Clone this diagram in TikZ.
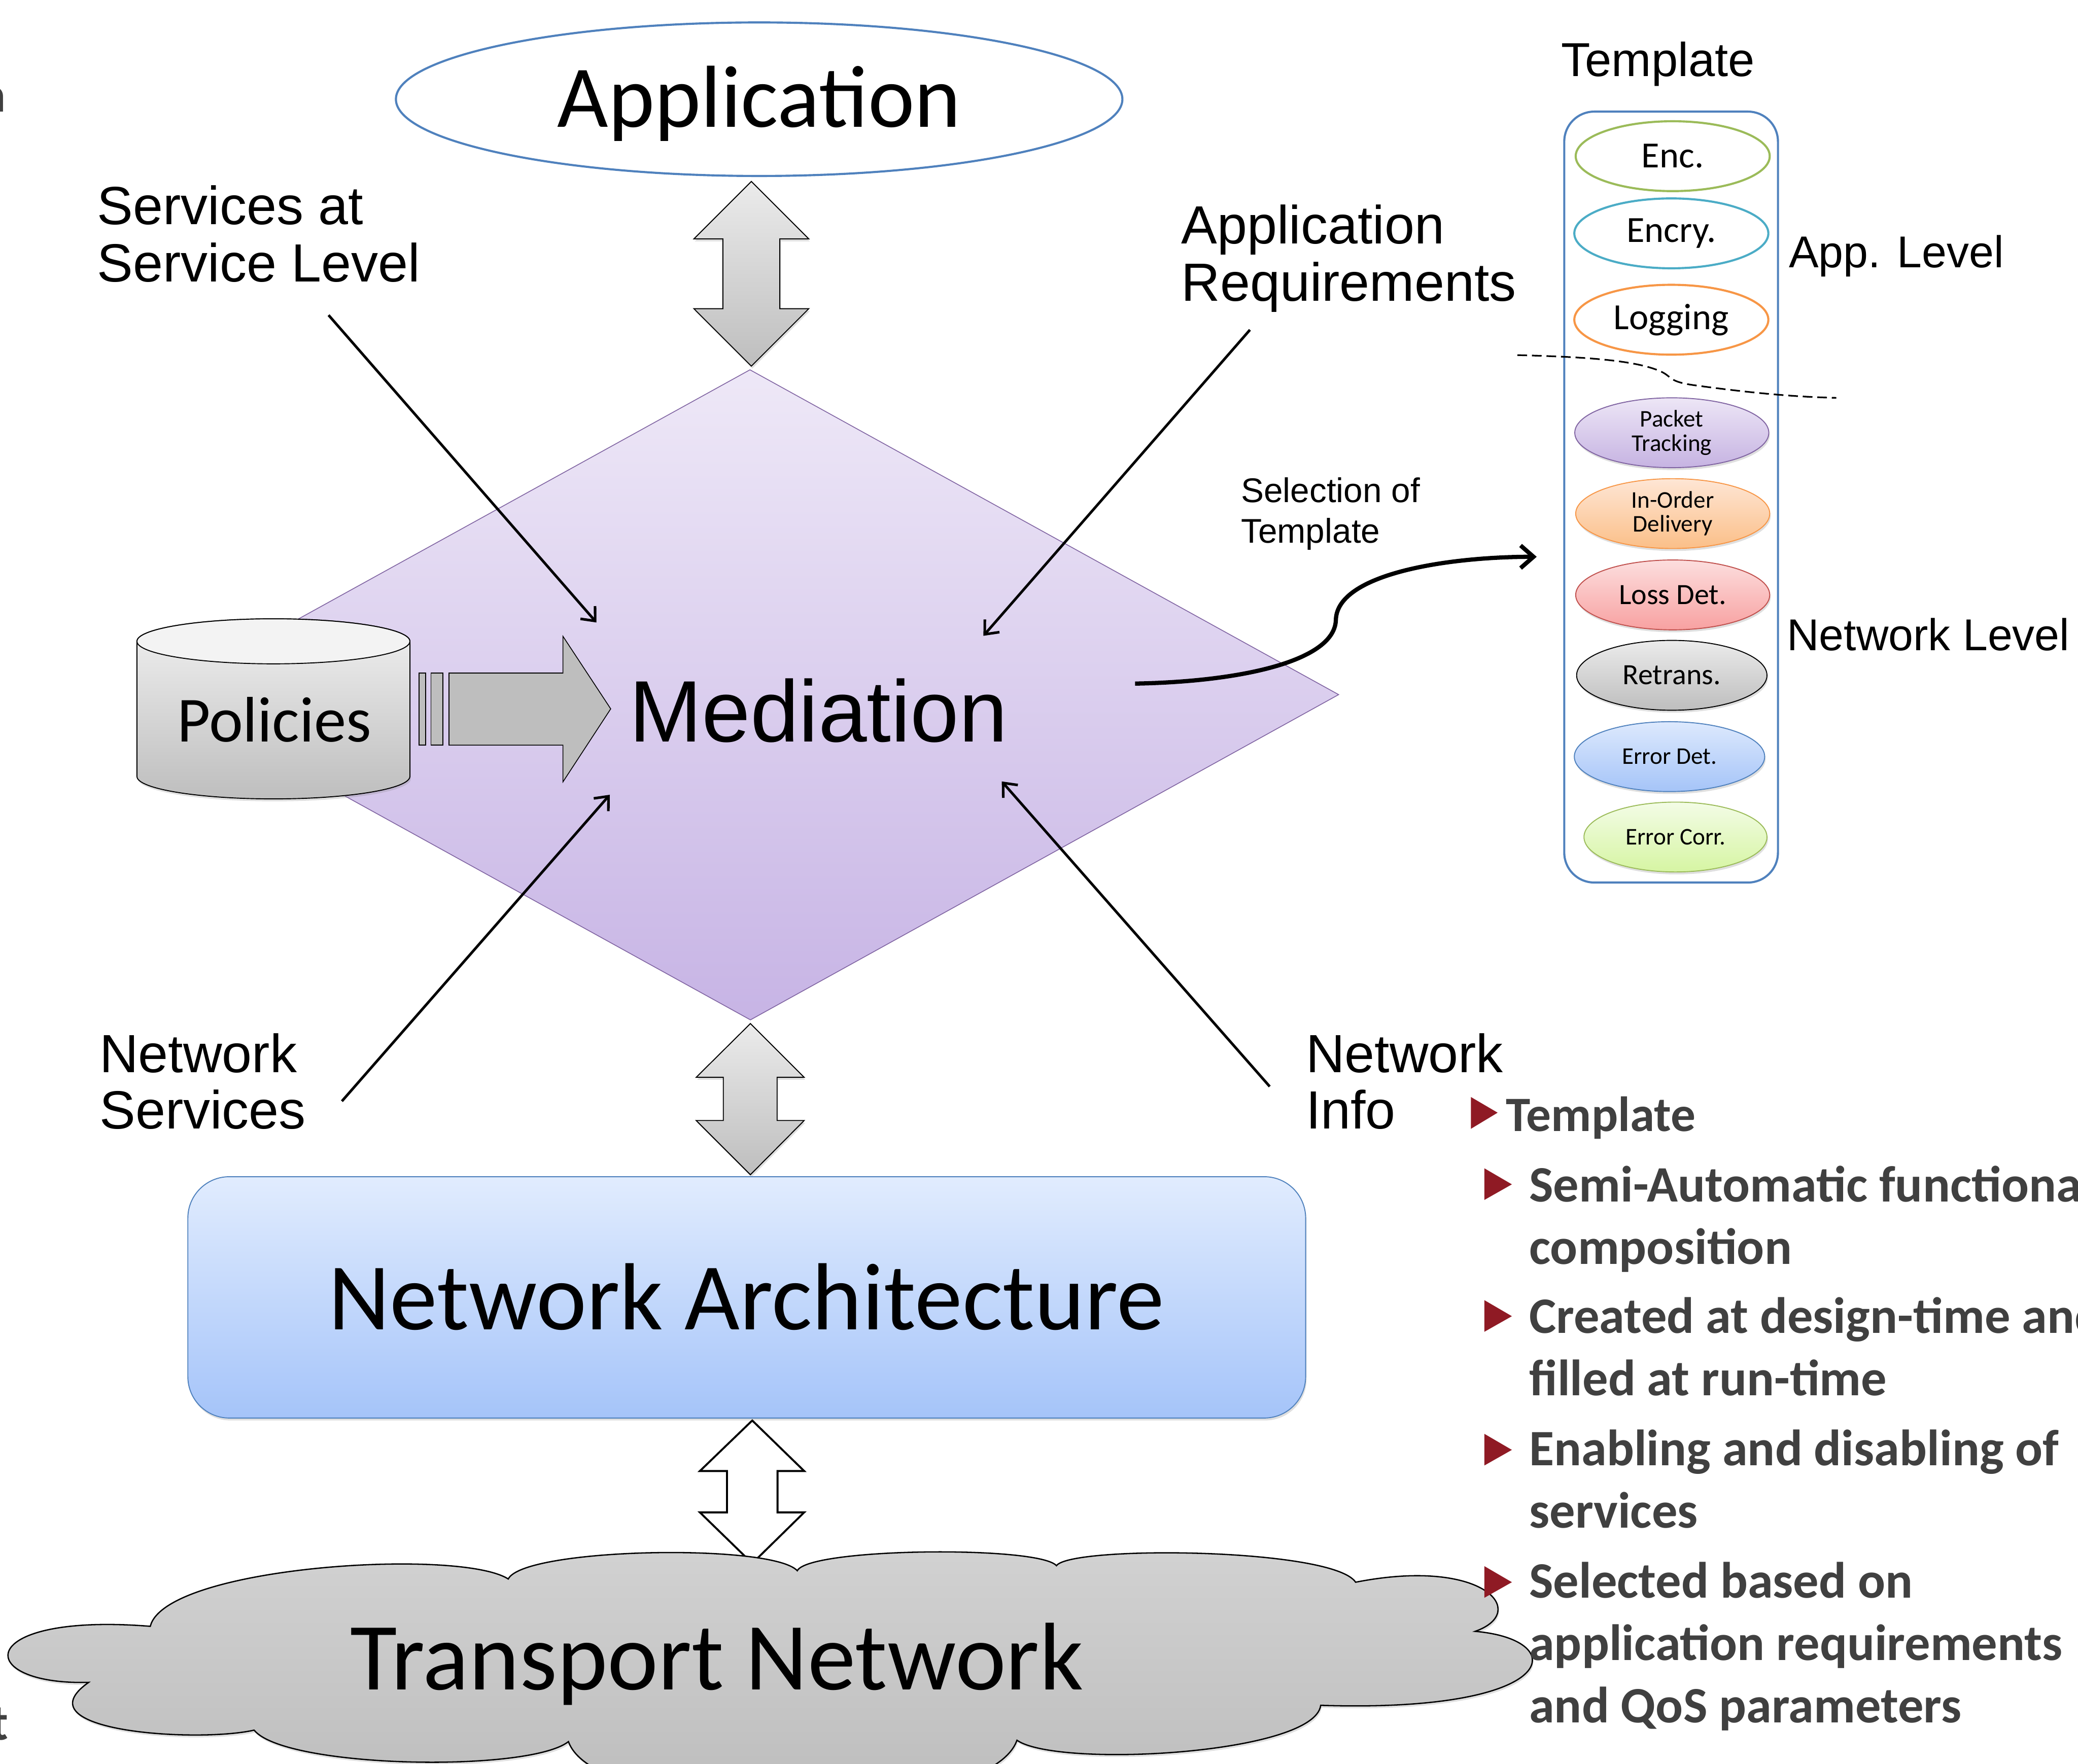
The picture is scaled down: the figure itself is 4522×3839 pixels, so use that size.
\documentclass[tikz,border=0pt]{standalone}
\usepackage{fontspec}
\usetikzlibrary{shapes.geometric,arrows.meta,shadows}
\newfontfamily\arialf{Liberation Sans}
\newfontfamily\calf{Carlito}
\newcommand\fsz[1]{\fontsize{#1}{#1}\selectfont}
\definecolor{blueln}{HTML}{4F81BD}
\definecolor{purpln}{HTML}{8064A2}
\definecolor{medtop}{RGB}{238,232,247}
\definecolor{medbot}{RGB}{199,180,229}
\definecolor{graytop}{HTML}{EBEBEB}
\definecolor{graybot}{HTML}{BEBEBE}
\definecolor{natop}{HTML}{E1ECFE}
\definecolor{nabot}{HTML}{A5C4F9}
\definecolor{cloudtop}{HTML}{D2D2D2}
\definecolor{cloudbot}{HTML}{BBBBBB}
\definecolor{bulred}{HTML}{8F1A24}
\definecolor{txtgray}{HTML}{404040}
\definecolor{cgreen}{HTML}{9BBB59}
\definecolor{caqua}{HTML}{4BACC6}
\definecolor{corange}{HTML}{F79646}
\definecolor{cred}{HTML}{C0504D}
\definecolor{pktop}{HTML}{EDE6F6}
\definecolor{pkbot}{HTML}{C6B3E2}
\definecolor{iotop}{HTML}{FEE6D5}
\definecolor{iobot}{HTML}{FBBF88}
\definecolor{lstop}{HTML}{FCDEDE}
\definecolor{lsbot}{HTML}{F8A1A1}
\definecolor{edtop}{HTML}{DDE9FD}
\definecolor{edbot}{HTML}{A5C4F8}
\definecolor{ectop}{HTML}{F3FCE6}
\definecolor{ecbot}{HTML}{D6F5A3}
\begin{document}
\begin{tikzpicture}[x=0.01cm,y=0.01cm,
  lbl/.style={inner sep=0,anchor=base west,font=\arialf\fsz{33.3pt}},
  lvl/.style={inner sep=0,anchor=base west,font=\arialf\fsz{27.6pt}},
  sel/.style={inner sep=0,anchor=base west,font=\arialf\fsz{21.2pt}},
  bul/.style={inner sep=0,anchor=base west,text=txtgray,font=\calf\bfseries\fsz{31.6pt}},
  ell/.style={ellipse,inner sep=0,minimum width=4.22cm,minimum height=1.52cm,font=\calf\fsz{14.8pt},align=center},
  appell/.style={ell,fill=white,line width=1.3pt,font=\calf\fsz{22.8pt}},
  shd/.style={drop shadow={shadow xshift=0.6pt,shadow yshift=-1.5pt,opacity=0.25}},
  conn/.style={line width=1.6pt,-{Straight Barb[length=7pt,width=12pt]}},
  grayarr/.style={draw=black,line width=0.6pt,top color=graytop,bottom color=graybot,shd},
  tri/.style={fill=bulred}
]
\useasboundingbox (0,0) rectangle (4522,3839);

% ---------- cut-off text fragments at the left edge
\node[inner sep=0,anchor=base east,text=txtgray,font=\calf\bfseries\fsz{30.4pt}] (fragn) at (13,3596) {n};
\node[inner sep=0,anchor=base east,text=txtgray,font=\calf\bfseries\fsz{31.6pt}] (fragt) at (19,52) {t};

% ---------- Mediation diamond
\coordinate (dT) at (1632,3034);
\coordinate (dR) at (2913,2327);
\coordinate (dB) at (1633,1619);
\coordinate (dL) at (351,2327);
\draw[purpln,line width=0.5pt,top color=medtop,bottom color=medbot] (dT) -- (dR) -- (dB) -- (dL) -- cycle;

% ---------- Application ellipse
\node[ellipse,draw=blueln,line width=1.3pt,fill=white,minimum width=15.8cm,minimum height=3.34cm,inner sep=0] (appE) at (1652,3623) {};
\node[inner sep=0,anchor=base,font=\calf\fsz{54.5pt}] (appT) at (1652,3562) {Application};

% ---------- block double arrows
\path[grayarr] (1635,3444) -- (1760,3319) -- (1697,3319) -- (1697,3167) -- (1760,3167) -- (1635,3042)
  -- (1510,3167) -- (1573,3167) -- (1573,3319) -- (1510,3319) -- cycle;
\path[grayarr] (1633,1611) -- (1750,1494) -- (1691,1494) -- (1691,1400) -- (1750,1400) -- (1633,1282)
  -- (1515,1400) -- (1574,1400) -- (1574,1494) -- (1515,1494) -- cycle;
\draw[line width=1.2pt,fill=white] (1637,747) -- (1750,637) -- (1692,637) -- (1692,547) -- (1750,547) -- (1637,436)
  -- (1523,547) -- (1582,547) -- (1582,637) -- (1523,637) -- cycle;

% ---------- Policies cylinder
\path[draw=black,line width=0.6pt,top color=graytop!70!white,bottom color=graybot,shd]
  (298,2443) -- (298,2149) arc[start angle=180,end angle=360,x radius=297,y radius=49]
  -- (892,2443) arc[start angle=0,end angle=180,x radius=297,y radius=49] -- cycle;
\draw[line width=0.6pt,fill=graytop!60!white] (595,2443) ellipse[x radius=297,y radius=49];
\node[inner sep=0,anchor=base,font=\calf\fsz{39.8pt}] (pol) at (597,2224) {Policies};

% Policies striped arrow
\draw[line width=0.5pt,fill=graybot] (912,2217) rectangle (926,2374);
\draw[line width=0.5pt,fill=graybot] (938,2217) rectangle (964,2374);
\draw[line width=0.5pt,fill=graybot] (977,2374) -- (1225,2374) -- (1225,2454) -- (1329,2296) -- (1225,2137)
  -- (1225,2217) -- (977,2217) -- cycle;

\node[inner sep=0,anchor=base,font=\arialf\fsz{54pt}] (med) at (1781,2224) {Mediation};

% ---------- labels
\node[lbl] (svc1) at (211,3350) {Services at};
\node[lbl] (svc2) at (211,3226) {Service Level};
\node[lbl] (req1) at (2570,3308) {Application};
\node[lbl] (req2) at (2570,3184) {Requirements};
\node[lbl] (ns1) at (216,1505) {Network};
\node[lbl] (ns2) at (216,1382) {Services};
\node[lbl] (ni1) at (2841,1505) {Network};
\node[lbl] (ni2) at (2841,1382) {Info};
\node[sel] (sel1) at (2700,2746) {Selection of};
\node[sel] (sel2) at (2700,2657) {Template};

% ---------- straight arrows
\coordinate (a1s) at (715,3153);  \coordinate (a1e) at (1298,2484);
\coordinate (a2s) at (2720,3121); \coordinate (a2e) at (2140,2455);
\coordinate (a3s) at (744,1442);  \coordinate (a3e) at (1327,2109);
\coordinate (a4s) at (2763,1474); \coordinate (a4e) at (2180,2138);
\draw[conn] (a1s) -- (a1e);
\draw[conn] (a2s) -- (a2e);
\draw[conn] (a3s) -- (a3e);
\draw[conn] (a4s) -- (a4e);

% ---------- curved selection arrow
\coordinate (cs) at (2470,2351);
\coordinate (cm) at (2907,2490);
\coordinate (ce) at (3344,2627);
\draw[line width=2.6pt,-{Straight Barb[length=8pt,width=14pt]}]
  (cs) .. controls (2700,2355) and (2905,2400) .. (cm) .. controls (2910,2590) and (3150,2627) .. (ce);

% ---------- Network Architecture
\node[draw=blueln,line width=0.6pt,rounded corners=0.9cm,top color=natop,bottom color=nabot,
  minimum width=24.31cm,minimum height=5.25cm,inner sep=0,shd] (na) at (1625,1015) {};
\node[inner sep=0,anchor=base,font=\calf\fsz{59pt}] (naT) at (1624,945) {Network Architecture};

% ---------- Transport Network cloud
\path[draw=black,line width=0.8pt,top color=cloudtop,bottom color=cloudbot,shd]
  (327,299) .. controls (360,430) and (1000,470) .. (1106,402)
  .. controls (1140,470) and (1680,480) .. (1735,420)
  .. controls (1760,470) and (2260,475) .. (2299,431)
  .. controls (2330,475) and (2900,470) .. (2950,395)
  .. controls (3230,450) and (3330,330) .. (3210,288)
  .. controls (3420,270) and (3400,110) .. (2874,127)
  .. controls (2860,20) and (2300,-10) .. (2213,51)
  .. controls (2150,-130) and (1300,-130) .. (1237,48)
  .. controls (1150,-20) and (620,-10) .. (553,73)
  .. controls (430,45) and (40,70) .. (193,177)
  .. controls (-60,170) and (-60,330) .. (327,299) -- cycle;
\node[inner sep=0,anchor=base,font=\calf\fsz{59.5pt}] (tn) at (1560,161) {Transport Network};

% ---------- Template column
\node[inner sep=0,anchor=base west,font=\arialf\fsz{29.5pt}] (tmpl) at (3397,3673) {Template};
\draw[blueln,line width=1.3pt,rounded corners=0.65cm] (3404,1918) rectangle (3869,3596);
\node[appell,draw=cgreen] (enc) at (3640,3499) {Enc.};
\node[appell,draw=caqua] (encry) at (3637,3331) {Encry.};
\node[appell,draw=corange] (logg) at (3637,3143) {Logging};
\draw[line width=1pt,dash pattern=on 6pt off 3pt]
  (3302,3066) .. controls (3450,3062) and (3560,3055) .. (3615,3030)
  .. controls (3640,3018) and (3630,3008) .. (3690,3000)
  .. controls (3800,2985) and (3900,2975) .. (3996,2973);
\node[ell,draw=purpln,line width=0.6pt,top color=pktop,bottom color=pkbot,shd] (pkt) at (3638,2897) {Packet\\Tracking};
\node[ell,draw=corange,line width=0.6pt,top color=iotop,bottom color=iobot,shd] (ino) at (3640,2721) {In-Order\\Delivery};
\node[ell,draw=cred,line width=0.6pt,top color=lstop,bottom color=lsbot,shd,font=\calf\fsz{18.2pt}] (loss) at (3640,2544) {Loss Det.};
\node[ell,draw=black,line width=0.6pt,top color=graytop,bottom color=graybot,shd,font=\calf\fsz{18.2pt},minimum width=4.14cm] (retr) at (3638,2369) {Retrans.};
\node[ell,draw=blueln,line width=0.6pt,top color=edtop,bottom color=edbot,shd,minimum width=4.14cm] (errd) at (3633,2192) {Error Det.};
\node[ell,draw=cgreen,line width=0.6pt,top color=ectop,bottom color=ecbot,shd,minimum width=3.98cm] (errc) at (3646,2017) {Error Corr.};
\node[lvl] (applvl) at (3892,3257) {App. Level};
\node[lvl] (netlvl) at (3888,2423) {Network Level};

% ---------- bullet list
\fill[tri] (3201,1451) -- (3259,1417) -- (3201,1382) -- cycle;
\node[bul,font=\calf\bfseries\fsz{30.6pt}] (bh) at (3277,1377) {Template};
\fill[tri] (3230,1296) -- (3290,1261) -- (3230,1227) -- cycle;
\fill[tri] (3230,1009) -- (3290,974) -- (3230,940) -- cycle;
\fill[tri] (3230,718) -- (3290,683) -- (3230,649) -- cycle;
\fill[tri] (3230,430) -- (3290,395) -- (3230,361) -- cycle;
\node[bul] (b1a) at (3327,1223) {Semi-Automatic functional};
\node[bul] (b1b) at (3327,1087) {composition};
\node[bul] (b2a) at (3327,937) {Created at design-time and};
\node[bul] (b2b) at (3327,801) {filled at run-time};
\node[bul] (b3a) at (3327,649) {Enabling and disabling of};
\node[bul] (b3b) at (3327,513) {services};
\node[bul] (b4a) at (3327,361) {Selected based on};
\node[bul] (b4b) at (3327,225) {application requirements};
\node[bul] (b4c) at (3327,89) {and QoS parameters};
\end{tikzpicture}
\end{document}
